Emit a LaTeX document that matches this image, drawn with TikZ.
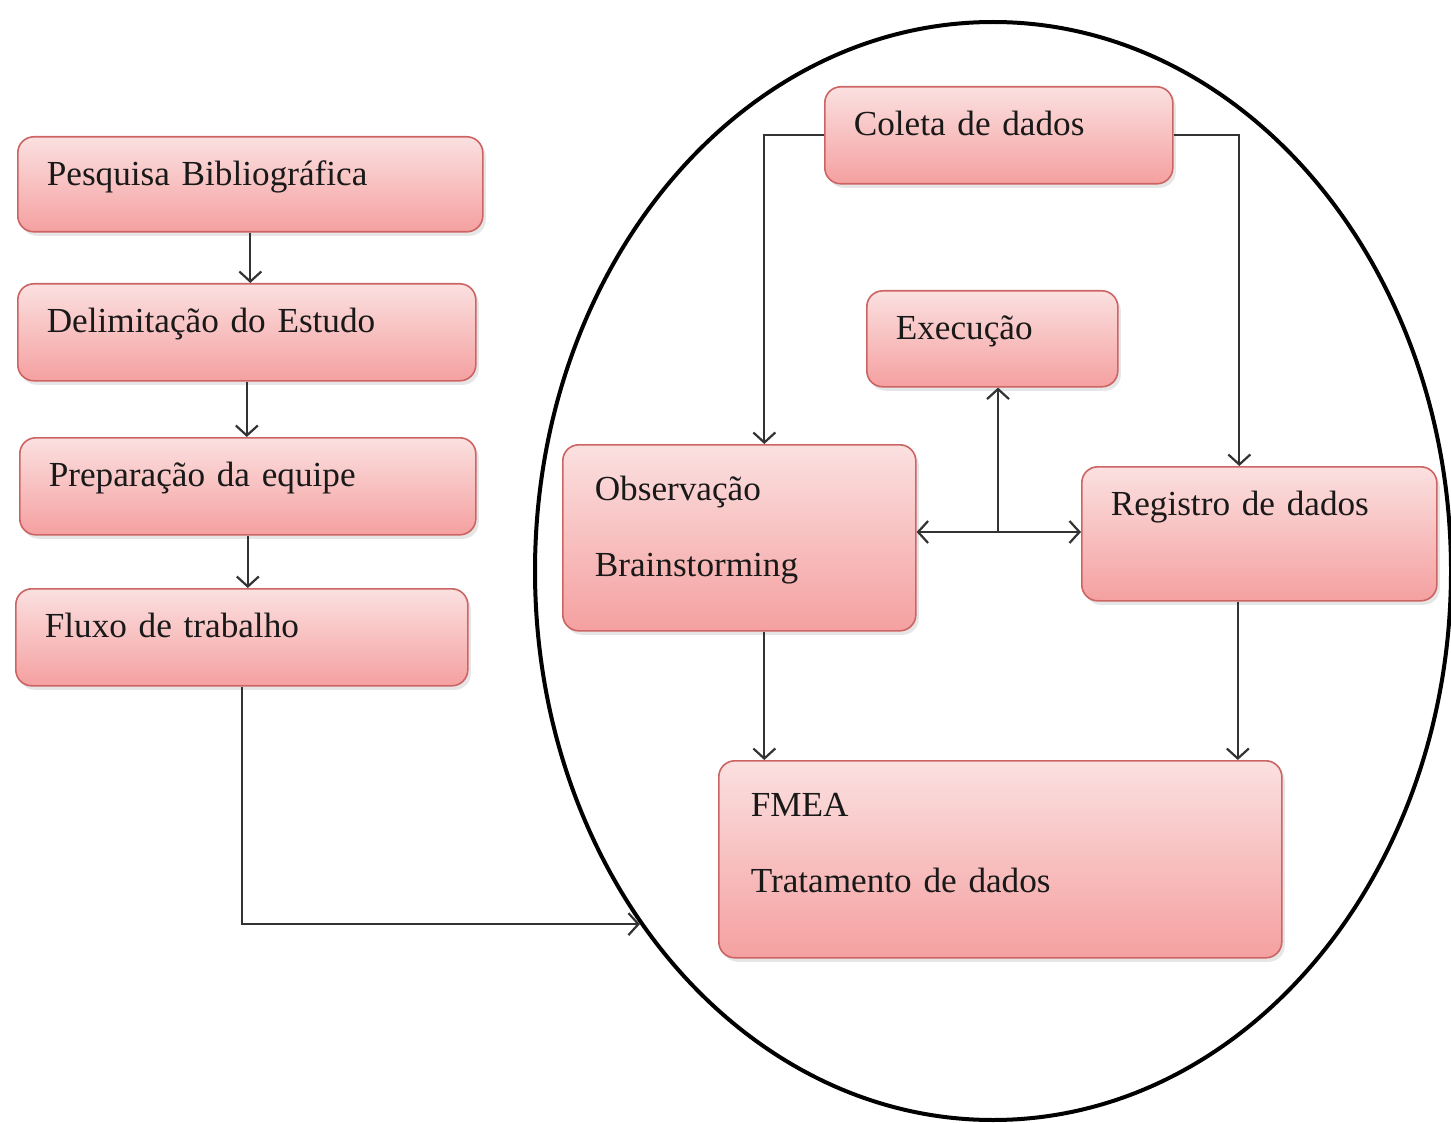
\documentclass[tikz,border=0pt]{standalone}
\usepackage{fontspec}
\setmainfont{Liberation Serif}
\usetikzlibrary{arrows.meta,shapes.geometric,shadows}
\definecolor{boxtop}{HTML}{FBE0E0}
\definecolor{boxbot}{HTML}{F5A0A0}
\definecolor{boxline}{HTML}{CD6464}
\definecolor{wiregray}{HTML}{333333}

\begin{document}
\begin{tikzpicture}[x=0.5pt,y=-0.5pt,>={Straight Barb[length=5pt,width=11pt]},
  box/.style={draw=boxline,line width=0.8pt,rounded corners=8pt,
    top color=boxtop,bottom color=boxbot,
    drop shadow={shadow xshift=1.5pt,shadow yshift=-2pt,opacity=0.2},
    anchor=north west,align=left,inner xsep=14.5pt,inner ysep=0pt,text height=24.5pt,
    font=\fontsize{17.6}{38}\selectfont,text=black!90},
  wide/.style={inner xsep=16pt,text height=28pt},
  wire/.style={draw=wiregray,line width=1.1pt}]
\useasboundingbox (0,0) rectangle (1451,1123);
% outer ring
\node[draw,ellipse,line width=2pt,minimum width=458pt,minimum height=549pt,inner sep=0pt] (ring) at (993,571) {};
% left column
\node[box,text width=203.5pt,text depth=23pt] (pesq) at (17,136) {Pesquisa Bibliográfica};
\node[box,text width=200pt,text depth=24pt] (delim) at (17,283) {Delimitação do Estudo};
\node[box,text width=199pt,text depth=24pt] (prep) at (19,437) {Preparação da equipe};
\node[box,text width=197pt,text depth=24pt] (fluxo) at (15,588) {Fluxo de trabalho};
% inside the ring
\node[box,text width=145pt,text depth=24pt] (coleta) at (824,86) {Coleta de dados};
\node[box,text width=96.5pt,text depth=23.5pt] (exec) at (866,290) {Execução};
\node[box,wide,text width=144.5pt,text depth=65pt] (obs) at (562,444) {Observação\\Brainstorming};
\node[box,text width=148.5pt,text depth=42.5pt] (reg) at (1081,466) {Registro de dados};
\node[box,wide,text width=249.5pt,text depth=70.5pt] (fmea) at (718,760) {FMEA\\Tratamento de dados};
\coordinate (hub) at (998,532);

\draw[wire,->] (pesq.south) -- (pesq.south |- delim.north);
\draw[wire,->] (delim.south) -- (delim.south |- prep.north);
\draw[wire,->] (prep.south) -- (prep.south |- fluxo.north);
\draw[wire,->] (fluxo.south) |- (ring.225);
\draw[wire,->] (coleta.west) -| ([xshift=12.5pt]obs.north);
\draw[wire,->] (coleta.east) -| ([xshift=-10pt]reg.north);
\draw[wire,->] (hub) -- (hub |- exec.south);
\draw[wire,->] (hub) -- (hub -| obs.east);
\draw[wire,->] (hub) -- (hub -| reg.west);
\draw[wire,->] ([xshift=12.5pt]obs.south) -- ([xshift=12.5pt]obs.south |- fmea.north);
\draw[wire,->] ([xshift=-10.75pt]reg.south) -- ([xshift=-10.75pt]reg.south |- fmea.north);
\end{tikzpicture}
\end{document}
